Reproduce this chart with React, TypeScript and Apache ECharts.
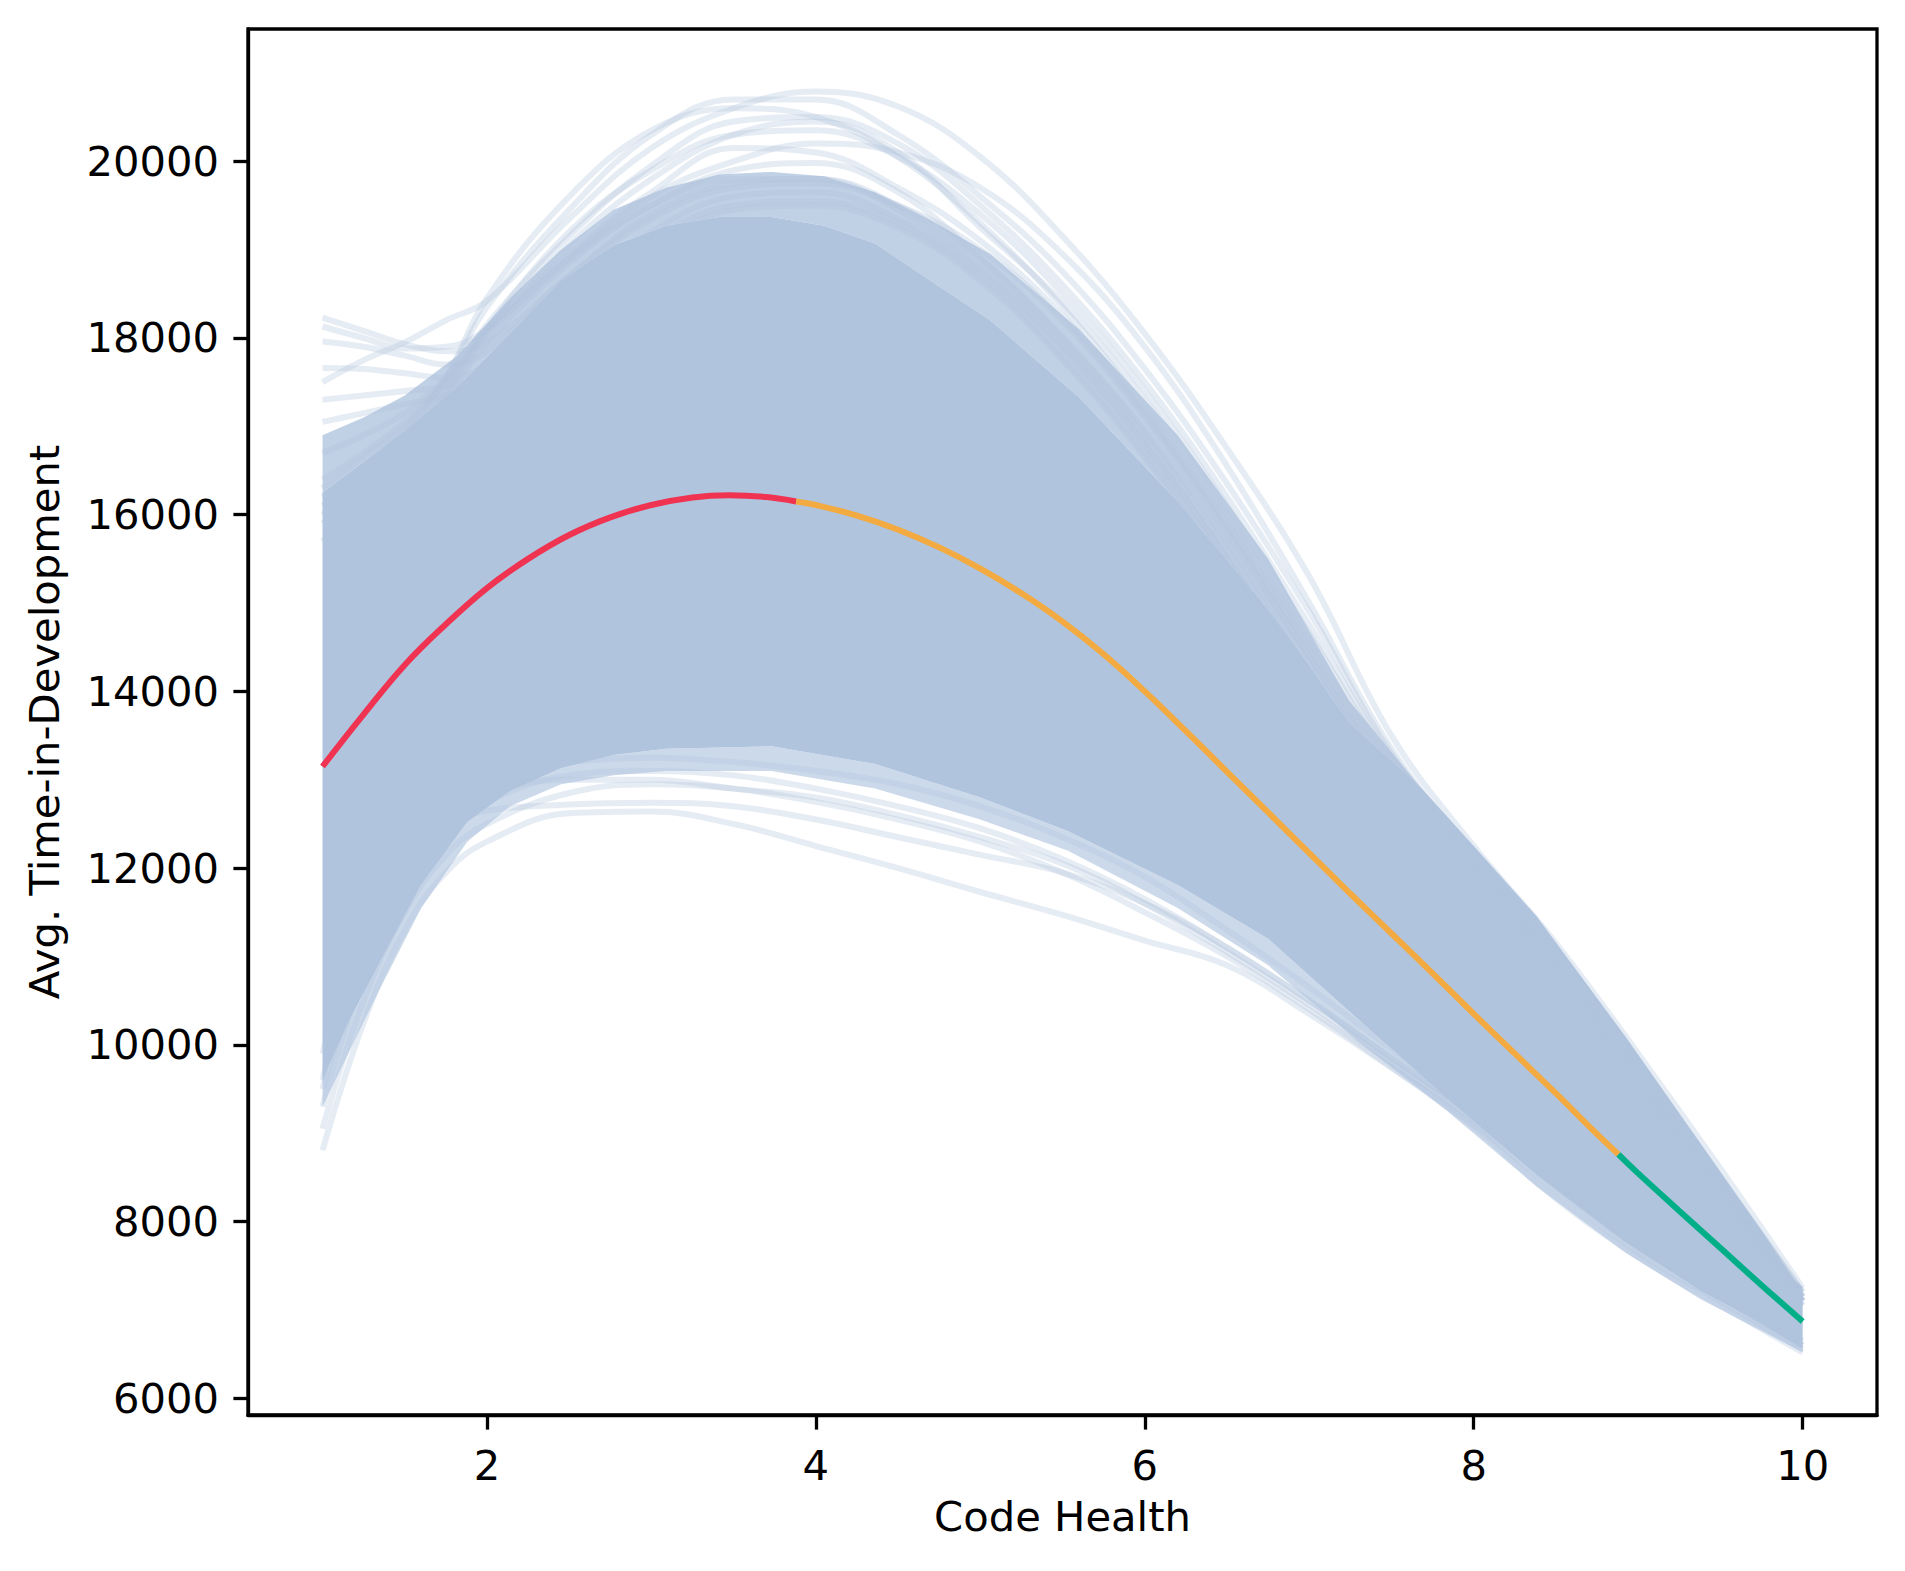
import React, { useEffect, useRef } from "react";
import * as echarts from "echarts";

// ---------- data ----------
const X_TICKS = [2, 4, 6, 8, 10];
const Y_TICKS = [6000, 8000, 10000, 12000, 14000, 16000, 18000, 20000];

// common x grid for the faint bootstrap curves
const XS = [1, 1.25, 1.5, 1.75, 2, 2.5, 3, 3.5, 4, 4.5, 5, 5.5, 6, 6.5, 7, 7.5, 8, 8.5, 9, 9.5, 10];

// upper outlying curves
const U1 = [17500, 17750, 17950, 18200, 18420, 19350, 20150, 20600, 20790, 20620, 20050, 19150, 18050, 16750, 15300, 13500, 12250, 11150, 9900, 8600, 7250];
const U2 = [16300, 16650, 17000, 17550, 18350, 19450, 20300, 20700, 20700, 20300, 19600, 18750, 17650, 16350, 14900, 13300, 12150, 11050, 9800, 8500, 7200];
const U3 = [16100, 16500, 16900, 17450, 18150, 19150, 19950, 20450, 20500, 20200, 19500, 18600, 17500, 16200, 14750, 13250, 12100, 11000, 9750, 8450, 7150];
const U4 = [15900, 16350, 16800, 17350, 18050, 19050, 19800, 20300, 20450, 20100, 19250, 18400, 17300, 16000, 14550, 13150, 12050, 10950, 9700, 8400, 7150];
const U5 = [16700, 16900, 17150, 17550, 18100, 18950, 19650, 20150, 20100, 19700, 19100, 18250, 17150, 15850, 14400, 13050, 12000, 10900, 9650, 8400, 7100];
const U6 = [15700, 16200, 16700, 17300, 17950, 18850, 19500, 19900, 19980, 19650, 18900, 18000, 16950, 15700, 14300, 12950, 11950, 10850, 9650, 8350, 7100];
const U7 = [16000, 16400, 16850, 17400, 18100, 19200, 19900, 20300, 20350, 20050, 19400, 18500, 17400, 16100, 14650, 13200, 12100, 11000, 9750, 8450, 7150];
const U8 = [16400, 16700, 17050, 17500, 18050, 18900, 19600, 20000, 20200, 20100, 19700, 18950, 17900, 16550, 15000, 13350, 12150, 11050, 9800, 8500, 7200];
const U9 = [16200, 16550, 16950, 17550, 18450, 19600, 20350, 20600, 20500, 20050, 19300, 18350, 17200, 15900, 14500, 13100, 12050, 10950, 9700, 8400, 7150];
// curves starting high on the left and running flat
const F1 = [18230, 18080, 17930, 17850, 17950, 18700, 19350, 19700, 19750, 19500, 19000, 18200, 17100, 15800, 14400, 13000, 11950, 10850, 9600, 8350, 7100];
const F2 = [18130, 18000, 17880, 17900, 18100, 18900, 19500, 19800, 19800, 19450, 18800, 17900, 16800, 15500, 14100, 12850, 11850, 10800, 9550, 8300, 7100];
const F3 = [17960, 17900, 17800, 17700, 17850, 18700, 19400, 19750, 19800, 19500, 18900, 18000, 16900, 15600, 14200, 12900, 11900, 10800, 9550, 8300, 7100];
const F4 = [17660, 17650, 17600, 17550, 17700, 18500, 19200, 19600, 19650, 19350, 18750, 17900, 16800, 15500, 14100, 12800, 11850, 10750, 9500, 8300, 7100];
const F5 = [17300, 17350, 17400, 17450, 17600, 18400, 19100, 19500, 19550, 19300, 18700, 17800, 16700, 15400, 14000, 12750, 11800, 10700, 9500, 8250, 7050];
const F6 = [17050, 17150, 17250, 17350, 17550, 18300, 19000, 19450, 19500, 19250, 18650, 17750, 16650, 15350, 13950, 12700, 11750, 10700, 9450, 8250, 7050];
// lower outlying curves
const L1 = [8807, 10250, 11300, 11950, 12300, 12620, 12640, 12500, 12250, 12000, 11730, 11470, 11180, 10900, 10350, 9740, 9070, 8260, 7600, 7050, 6520];
const L2 = [9050, 10500, 11500, 12150, 12500, 12850, 12950, 12900, 12750, 12550, 12300, 11950, 11500, 11000, 10400, 9750, 9100, 8350, 7650, 7100, 6550];
const L3 = [9300, 10800, 11800, 12400, 12750, 13050, 13100, 13050, 12900, 12700, 12450, 12100, 11650, 11100, 10500, 9850, 9200, 8450, 7750, 7150, 6600];
const L4 = [9500, 11000, 12000, 12550, 12850, 13000, 13000, 12900, 12800, 12600, 12350, 12050, 11600, 11050, 10450, 9800, 9150, 8400, 7700, 7150, 6600];
const L5 = [9600, 11300, 12150, 12500, 12650, 12720, 12740, 12700, 12550, 12350, 12150, 11950, 11600, 11100, 10500, 9850, 9200, 8450, 7750, 7150, 6600];
const L6 = [9900, 11500, 12400, 12850, 13050, 13200, 13250, 13200, 13100, 12950, 12700, 12350, 11900, 11300, 10650, 9950, 9250, 8500, 7800, 7200, 6650];

// dense core of the bootstrap band
const CORE_TOP_X = [1.0, 1.25, 1.5, 1.82, 2.14, 2.45, 2.77, 3.09, 3.41, 3.73, 4.05, 4.36, 4.68, 5.06, 5.6, 6.2, 6.75, 7.0, 7.24, 7.67, 8.0, 8.38, 8.92, 9.38, 9.76, 9.95, 10.0];
const CORE_TOP_Y = [16250, 16600, 16950, 17450, 18050, 18650, 19050, 19270, 19370, 19370, 19270, 19070, 18670, 18200, 17330, 16150, 14930, 14300, 13650, 12930, 12250, 11460, 10100, 8880, 7870, 7340, 7260];
const CORE_BOT_X = [1.0, 1.17, 1.34, 1.6, 1.88, 2.14, 2.45, 2.77, 3.09, 3.73, 4.36, 5.0, 5.53, 6.2, 6.75, 7.29, 7.84, 8.38, 8.92, 9.38, 9.71, 10.0];
const CORE_BOT_Y = [9600, 10300, 10900, 11810, 12520, 12870, 13130, 13280, 13350, 13380, 13180, 12800, 12420, 11810, 11200, 10300, 9390, 8530, 7770, 7215, 6890, 6560];
// half-dense fringe above and below the core
const FRINGE_TOP_X = [1.0, 1.25, 1.5, 1.82, 2.14, 2.45, 2.77, 3.09, 3.41, 3.73, 4.05, 4.36, 4.68, 5.06, 5.6, 6.2, 6.75, 7.24, 7.67];
const FRINGE_TOP_Y = [16900, 17100, 17350, 17800, 18450, 19000, 19450, 19700, 19850, 19880, 19830, 19650, 19350, 18950, 18100, 16900, 15500, 13900, 12930];
const FRINGE_BOT_X = [1.0, 1.17, 1.34, 1.6, 1.88, 2.14, 2.45, 2.77, 3.09, 3.73, 4.36, 5.0, 5.53, 6.2, 6.75, 7.29, 7.84, 8.38, 8.92, 9.38, 9.71, 10.0];
const FRINGE_BOT_Y = [9300, 9950, 10600, 11550, 12300, 12700, 12950, 13050, 13100, 13100, 12900, 12550, 12200, 11550, 10900, 10050, 9250, 8400, 7650, 7120, 6800, 6520];

// mean curve, in three coloured segments
const MEAN_RED_X = [1.0, 1.25, 1.5, 1.75, 2.0, 2.25, 2.5, 2.75, 3.0, 3.25, 3.47, 3.7, 3.88];
const MEAN_RED_Y = [13150, 13740, 14300, 14760, 15170, 15500, 15770, 15970, 16110, 16195, 16220, 16200, 16150];
const MEAN_ORANGE_X = [3.88, 4.0, 4.25, 4.5, 4.75, 5.0, 5.25, 5.5, 5.75, 6.0, 6.25, 6.5, 6.75, 7.0, 7.25, 7.5, 7.75, 8.0, 8.25, 8.5, 8.75, 8.88];
const MEAN_ORANGE_Y = [16150, 16110, 15990, 15830, 15630, 15390, 15110, 14790, 14420, 14000, 13550, 13090, 12630, 12170, 11710, 11260, 10810, 10350, 9900, 9450, 8990, 8760];
const MEAN_GREEN_X = [8.88, 9.0, 9.25, 9.5, 9.75, 10.0];
const MEAN_GREEN_Y = [8760, 8545, 8120, 7700, 7280, 6870];

// ---------- helpers ----------
const pairs = (xs: number[], ys: number[]) => xs.map((x, i) => [x, ys[i]]);
const STEEL = "#B0C4DE";
const FONT = "DejaVu Sans";

function bandSeries(topX: number[], topY: number[], botX: number[], botY: number[], opacity: number) {
  const top = pairs(topX, topY);
  const bot = pairs(botX, botY).reverse();
  const poly = top.concat(bot);
  return {
    type: "custom",
    silent: true,
    clip: true,
    z: 1,
    data: [[topX[0], topY[0]]],
    renderItem: (_params: any, api: any) => ({
      type: "polygon",
      shape: { points: poly.map((p) => api.coord(p)) },
      style: { fill: STEEL, opacity },
    }),
  };
}

function faint(ys: number[]) {
  return {
    type: "line",
    data: pairs(XS, ys),
    smooth: 0.4,
    showSymbol: false,
    silent: true,
    z: 2,
    lineStyle: { color: STEEL, width: 6, opacity: 0.32 },
  };
}

function meanSeg(xs: number[], ys: number[], color: string) {
  return {
    type: "line",
    data: pairs(xs, ys),
    smooth: 0.4,
    showSymbol: false,
    silent: true,
    z: 5,
    lineStyle: { color, width: 6, cap: "butt" },
  };
}

export default function App() {
  const ref = useRef<HTMLDivElement>(null);
  useEffect(() => {
    document.body.style.margin = "0";
    const chart = echarts.init(ref.current!, null, { renderer: "svg" });
    const axisCommon = {
      type: "value",
      splitLine: { show: false },
      axisLine: { show: true, onZero: false, lineStyle: { color: "#000", width: 3.3 } },
      axisTick: { show: true, inside: false, length: 14.6, lineStyle: { color: "#000", width: 3.3 } },
      nameLocation: "middle",
      nameTextStyle: { fontFamily: FONT, fontSize: 41.7, color: "#000" },
    };
    const label = { margin: 29, fontFamily: FONT, fontSize: 41.7, color: "#000", formatter: (v: number) => String(v) };
    chart.setOption({
      animation: false,
      backgroundColor: "#fff",
      grid: { left: 248, top: 29, right: 28, bottom: 156, show: true, borderColor: "#000", borderWidth: 3.3, containLabel: false },
      xAxis: {
        ...axisCommon,
        min: 0.547,
        max: 10.452,
        name: "Code Health",
        nameGap: 80,
        axisTick: { ...axisCommon.axisTick, customValues: X_TICKS },
        axisLabel: { ...label, customValues: X_TICKS },
      },
      yAxis: {
        ...axisCommon,
        min: 5811,
        max: 21497,
        name: "Avg. Time-in-Development",
        nameGap: 183,
        axisTick: { ...axisCommon.axisTick, customValues: Y_TICKS },
        axisLabel: { ...label, customValues: Y_TICKS },
      },
      series: [
        bandSeries(FRINGE_TOP_X, FRINGE_TOP_Y, CORE_TOP_X.slice(0, 20), CORE_TOP_Y.slice(0, 20), 0.8),
        bandSeries(CORE_BOT_X, CORE_BOT_Y, FRINGE_BOT_X, FRINGE_BOT_Y, 0.65),
        bandSeries(CORE_TOP_X, CORE_TOP_Y, CORE_BOT_X, CORE_BOT_Y, 1),
        ...[U1, U2, U3, U4, U5, U6, U7, U8, U9, F1, F2, F3, F4, F5, F6, L1, L2, L3, L4, L5, L6].map(faint),
        meanSeg(MEAN_RED_X, MEAN_RED_Y, "#EF3351"),
        meanSeg(MEAN_ORANGE_X, MEAN_ORANGE_Y, "#F3AA40"),
        meanSeg(MEAN_GREEN_X, MEAN_GREEN_Y, "#00AF88"),
      ],
    });
    return () => chart.dispose();
  }, []);
  return <div ref={ref} style={{ width: 1905, height: 1571 }} />;
}
